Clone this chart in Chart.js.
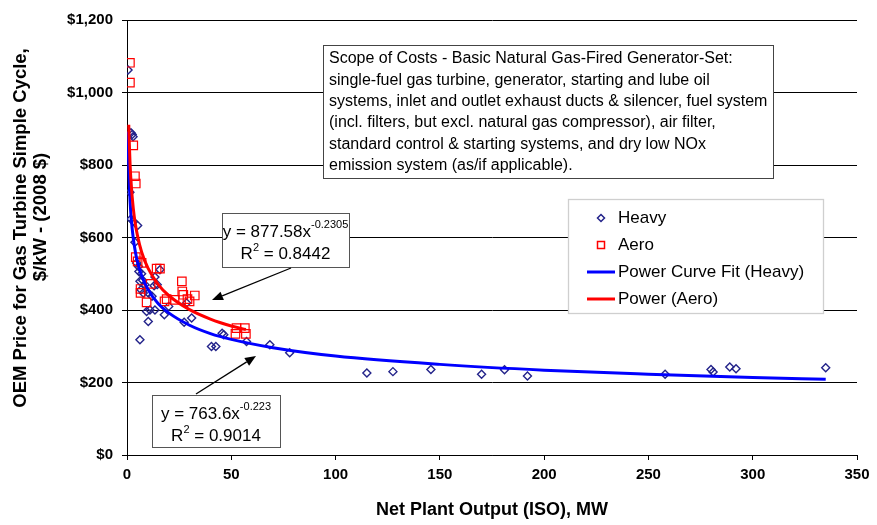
<!DOCTYPE html>
<html>
<head>
<style>
  body { margin: 0; background: #fff; }
  canvas { display: block; }
</style>
</head>
<body>
<canvas id="chart" width="877" height="525"></canvas>
<script src="https://cdn.jsdelivr.net/npm/chart.js@4/dist/chart.umd.min.js"></script>
<script>
// observed units: Heavy (industrial) gas turbines
const heavyX = [0.5, 1.9, 2.5, 2.9, 1.4, 1.9, 3, 5.1, 3.8, 4.6, 5.5, 5.7, 7, 6.2, 7.5, 6.7, 7.8, 8.6, 10.2, 12,
                13.4, 13, 14.5, 15.8, 9.4, 11, 13.4, 10.2, 17.9, 6.2, 20, 31, 27.4, 28.6, 40.5, 42.6, 45.6, 46.4, 57.3, 68.5,
                78, 115, 127.5, 145.7, 170, 181, 192, 258, 280, 281, 289, 292, 335];
const heavyY = [1062, 889, 884, 878, 725, 651, 645, 633, 587, 530, 520, 506, 500, 479, 482, 456, 447, 470, 447, 438,
                491, 467, 470, 511, 396, 400, 400, 368, 387, 318, 410, 378, 366, 419, 299, 299, 336, 332, 313, 304,
                282, 226, 230, 236, 223, 235, 218, 223, 236, 229, 243, 238, 241];

// observed units: Aero-derivative gas turbines
const aeroX = [1.4, 1.4, 3, 3.8, 4.2, 4.2, 5.1, 7, 6.5, 6.5, 9.4, 11.3, 14.2, 15.8, 18, 19, 22.8, 26.3, 26.5, 27,
               29, 30, 32.5, 52.5, 52, 56.5, 57];
const aeroY = [1082, 1027, 854, 769, 749, 546, 534, 530, 458, 447, 421, 472, 514, 514, 424, 430, 428, 479, 451, 442,
               430, 424, 440, 350, 334, 350, 334];

// trend curves
const heavyFitX = [0.5, 0.75, 1, 1.5, 2, 3, 4, 5, 7, 10, 15, 20, 30, 40, 50, 70, 100, 150, 200, 250, 300, 335];
const heavyFitY = [891, 814, 764, 698, 654, 598, 561, 533, 495, 457, 417, 392, 358, 335, 319, 296, 273, 250, 234, 223, 214, 209];
const aeroFitX = [0.85, 1, 1.5, 2, 3, 4, 5, 7, 10, 15, 20, 30, 40, 50, 57];
const aeroFitY = [911, 878, 799, 748, 681, 637, 606, 560, 516, 470, 440, 401, 375, 356, 346];

const seriesNames = ['Heavy', 'Aero', 'Power Curve Fit (Heavy)', 'Power (Aero)'];
const xTitle = 'Net Plant Output (ISO), MW';
const yTitle = ['OEM Price for Gas Turbine Simple Cycle,', '$/kW - (2008 $)'];

const scopeText = [
  'Scope of Costs - Basic Natural Gas-Fired Generator-Set:',
  'single-fuel gas turbine, generator, starting and lube oil',
  'systems, inlet and outlet exhaust ducts & silencer, fuel system',
  '(incl. filters, but excl. natural gas compressor), air filter,',
  'standard control & starting systems, and dry low NOx',
  'emission system (as/if applicable).'
];

const FONT = '"Liberation Sans", Arial, sans-serif';
const NAVY = '#23238a';

function pts(xs, ys) {
  return xs.map((x, i) => ({x: x, y: ys[i]}));
}

// y title, boxes, arrows and legend drawn over the plot
const overlay = {
  id: 'overlay',
  afterDraw(chart) {
    const ctx = chart.ctx;
    ctx.save();
    ctx.textBaseline = 'middle';

    // y axis title (two lines, each centred on its own)
    ctx.fillStyle = '#000';
    ctx.font = 'bold 18.5px ' + FONT;
    ctx.textAlign = 'center';
    [[21, 228], [41, 217]].forEach((p, i) => {
      ctx.save();
      ctx.translate(p[0], p[1]);
      ctx.rotate(-Math.PI / 2);
      ctx.fillText(yTitle[i], 0, 0);
      ctx.restore();
    });

    // scope box
    ctx.fillStyle = '#fff';
    ctx.fillRect(323, 45, 450, 133);
    ctx.strokeStyle = '#444';
    ctx.lineWidth = 1;
    ctx.strokeRect(323.5, 45.5, 450, 133);
    ctx.fillStyle = '#000';
    ctx.font = '16px ' + FONT;
    ctx.textAlign = 'left';
    scopeText.forEach((t, i) => ctx.fillText(t, 329, 59 + i * 21.3));

    // equation boxes
    eqBox(ctx, 222, 213, 127, 54, '877.58', '-0.2305', '0.8442');
    eqBox(ctx, 152, 395, 128, 52, '763.6', '-0.223', '0.9014');

    // arrows
    arrow(ctx, 291, 268, 212, 300);
    arrow(ctx, 196, 394, 256, 356);

    // legend
    ctx.fillStyle = '#fff';
    ctx.fillRect(568, 199, 255, 114);
    ctx.strokeStyle = '#cfcfcf';
    ctx.strokeRect(568.5, 199.5, 255, 114);
    const rows = [218, 245, 272, 299];
    ctx.font = '17px ' + FONT;
    ctx.textAlign = 'left';
    rows.forEach((y, i) => {
      ctx.fillStyle = '#000';
      ctx.fillText(seriesNames[i], 618, y);
    });
    ctx.lineWidth = 1.5;
    ctx.strokeStyle = NAVY;
    ctx.beginPath();
    ctx.moveTo(601, rows[0] - 3.5); ctx.lineTo(604.5, rows[0]);
    ctx.lineTo(601, rows[0] + 3.5); ctx.lineTo(597.5, rows[0]); ctx.closePath();
    ctx.stroke();
    ctx.strokeStyle = '#ff0000';
    ctx.strokeRect(597.5, rows[1] - 3.5, 7, 7);
    ctx.lineWidth = 3;
    ctx.strokeStyle = '#0000ff';
    ctx.beginPath(); ctx.moveTo(587, rows[2]); ctx.lineTo(615, rows[2]); ctx.stroke();
    ctx.strokeStyle = '#ff0000';
    ctx.beginPath(); ctx.moveTo(587, rows[3]); ctx.lineTo(615, rows[3]); ctx.stroke();
    ctx.restore();
  }
};

function eqBox(ctx, x, y, w, h, coef, expo, r2) {
  ctx.fillStyle = '#fff';
  ctx.fillRect(x, y, w, h);
  ctx.strokeStyle = '#555';
  ctx.lineWidth = 1;
  ctx.strokeRect(x + 0.5, y + 0.5, w, h);
  ctx.fillStyle = '#000';
  const cx = x + w / 2;
  ctx.font = '17px ' + FONT;
  const base = 'y = ' + coef + 'x';
  const bw = ctx.measureText(base).width;
  ctx.font = '11px ' + FONT;
  const ew = ctx.measureText(expo).width;
  const sx = cx - (bw + ew) / 2;
  ctx.textAlign = 'left';
  ctx.font = '17px ' + FONT;
  ctx.fillText(base, sx, y + 19);
  ctx.font = '11px ' + FONT;
  ctx.fillText(expo, sx + bw, y + 12);
  ctx.font = '17px ' + FONT;
  const rw = ctx.measureText('R = ' + r2).width;
  ctx.font = '11px ' + FONT;
  const tw = ctx.measureText('2').width;
  ctx.font = '17px ' + FONT;
  const rx = cx - (rw + tw) / 2;
  ctx.fillText('R', rx, y + 41);
  const rW = ctx.measureText('R').width;
  ctx.fillText(' = ' + r2, rx + rW + tw, y + 41);
  ctx.font = '11px ' + FONT;
  ctx.fillText('2', rx + rW, y + 35);
}

function arrow(ctx, x1, y1, x2, y2) {
  const a = Math.atan2(y2 - y1, x2 - x1);
  const len = 11, wid = 4.5;
  ctx.strokeStyle = '#000';
  ctx.fillStyle = '#000';
  ctx.lineWidth = 1.3;
  ctx.beginPath();
  ctx.moveTo(x1, y1);
  ctx.lineTo(x2 - Math.cos(a) * len, y2 - Math.sin(a) * len);
  ctx.stroke();
  ctx.beginPath();
  ctx.moveTo(x2, y2);
  ctx.lineTo(x2 - Math.cos(a) * len - Math.sin(a) * wid, y2 - Math.sin(a) * len + Math.cos(a) * wid);
  ctx.lineTo(x2 - Math.cos(a) * len + Math.sin(a) * wid, y2 - Math.sin(a) * len - Math.cos(a) * wid);
  ctx.closePath();
  ctx.fill();
}

new Chart(document.getElementById('chart'), {
  type: 'scatter',
  data: {
    datasets: [
      {
        label: seriesNames[0],
        data: pts(heavyX, heavyY),
        pointStyle: 'rectRot',
        pointRadius: 4,
        pointBorderWidth: 1.4,
        pointBorderColor: NAVY,
        pointBackgroundColor: 'rgba(0,0,0,0)',
        order: 3
      },
      {
        label: seriesNames[1],
        data: pts(aeroX, aeroY),
        pointStyle: 'rect',
        pointRadius: 6,
        pointBorderWidth: 1.2,
        pointBorderColor: '#ff0000',
        pointBackgroundColor: 'rgba(0,0,0,0)',
        order: 2
      },
      {
        type: 'line',
        label: seriesNames[2],
        data: pts(heavyFitX, heavyFitY),
        borderColor: '#0000ff',
        borderWidth: 3,
        pointRadius: 0,
        cubicInterpolationMode: 'monotone',
        order: 1
      },
      {
        type: 'line',
        label: seriesNames[3],
        data: pts(aeroFitX, aeroFitY),
        borderColor: '#ff0000',
        borderWidth: 3,
        pointRadius: 0,
        cubicInterpolationMode: 'monotone',
        order: 0
      }
    ]
  },
  options: {
    responsive: false,
    animation: false,
    layout: {padding: {left: 0, right: 20, top: 20, bottom: 0}},
    plugins: {
      legend: {display: false},
      tooltip: {enabled: false}
    },
    scales: {
      x: {
        type: 'linear',
        min: 0,
        max: 350,
        afterFit: (s) => { s.height = 70; },
        ticks: {
          stepSize: 50,
          color: '#000',
          padding: 6,
          maxRotation: 0,
          font: {family: FONT, size: 15, weight: 'bold'}
        },
        grid: {drawOnChartArea: false, drawTicks: true, tickLength: 5, color: '#000'},
        border: {color: '#000', width: 1},
        title: {
          display: true,
          text: xTitle,
          color: '#000',
          padding: {top: 0, bottom: 4},
          font: {family: FONT, size: 18, weight: 'bold'}
        }
      },
      y: {
        min: 0,
        max: 1200,
        afterFit: (s) => { s.width = 127; },
        ticks: {
          stepSize: 200,
          color: '#000',
          padding: 9,
          font: {family: FONT, size: 15, weight: 'bold'},
          callback: (v) => '$' + v.toLocaleString('en-US')
        },
        grid: {color: '#000', lineWidth: 1, drawTicks: true, tickLength: 5, tickColor: '#000'},
        border: {color: '#000', width: 1},
        title: {display: false}
      }
    }
  },
  plugins: [overlay]
});
</script>
</body>
</html>
